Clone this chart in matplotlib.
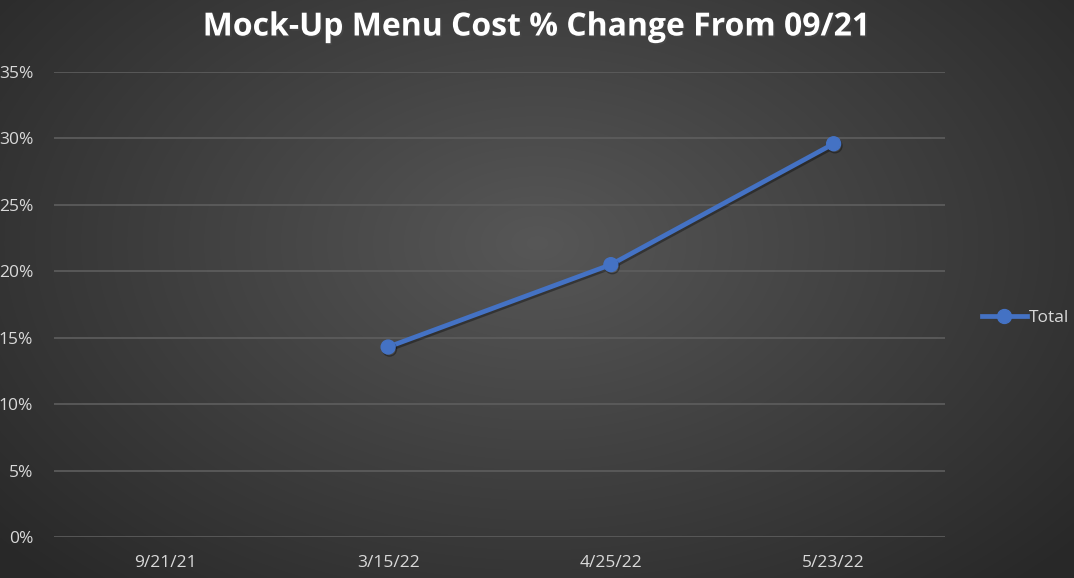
import numpy as np
import matplotlib.pyplot as plt
import matplotlib.patheffects as pe
from matplotlib.lines import Line2D

# Chart data
dates = ["9/21/21", "3/15/22", "4/25/22", "5/23/22"]
total_pct = [np.nan, 14.3, 20.5, 29.6]
y_ticks = [0, 5, 10, 15, 20, 25, 30, 35]

W, H = 1074, 578
fig = plt.figure(figsize=(W / 100, H / 100), dpi=100)

# Radial gradient background (lighter in the middle, dark at edges)
bg = fig.add_axes([0, 0, 1, 1], zorder=0)
yy, xx = np.mgrid[0:H, 0:W]
r = np.sqrt(((xx - W * 0.5) / (W * 0.62)) ** 2 + ((yy - H * 0.42) / (H * 0.75)) ** 2)
shade = np.clip(0.34 - 0.17 * r, 0.16, 0.34)
bg.imshow(np.dstack([shade] * 3), aspect="auto", extent=[0, 1, 0, 1])
bg.axis("off")

ax = fig.add_axes([54 / W, 1 - 537 / H, (945 - 54) / W, (537 - 72) / H], zorder=1)
ax.patch.set_alpha(0)

x = np.arange(len(dates))
line_color = "#4472C4"
ax.plot(x, total_pct, color=line_color, lw=3.4, marker="o", ms=10,
        solid_capstyle="round", zorder=3,
        path_effects=[pe.SimpleLineShadow(offset=(1, -1.5), alpha=0.35), pe.Normal()])

ax.set_xlim(-0.5, len(dates) - 0.5)
ax.set_ylim(0, 35)
ax.set_yticks(y_ticks)
ax.set_yticklabels([f"{t}%" for t in y_ticks])
ax.set_xticks(x)
ax.set_xticklabels(dates)

for s in ax.spines.values():
    s.set_visible(False)
ax.grid(axis="y", color="#5e5e5e", lw=1.2)
ax.set_axisbelow(True)
ax.tick_params(length=0, colors="#d9d9d9", labelsize=12.5)
ax.tick_params(axis="y", pad=15)
ax.tick_params(axis="x", pad=13)
for lab in ax.get_xticklabels() + ax.get_yticklabels():
    lab.set_fontfamily("Open Sans")

fig.text(0.5, 1 - 27 / H, "Mock-Up Menu Cost % Change From 09/21", ha="center", va="center",
         color="white", fontsize=23, fontweight="bold", family="Open Sans",
         path_effects=[pe.withSimplePatchShadow(offset=(1.2, -1.2), alpha=0.5)])

handle = Line2D([], [], color=line_color, lw=3.4, marker="o", ms=10)
leg = fig.legend([handle], ["Total"], loc="center left", bbox_to_anchor=(966 / W, 1 - 318 / H),
                 frameon=False, handlelength=2.6, handletextpad=0.1,
                 prop={"family": "Open Sans", "size": 12.5})
for t in leg.get_texts():
    t.set_color("#d9d9d9")

fig.savefig("out.png", dpi=100)
